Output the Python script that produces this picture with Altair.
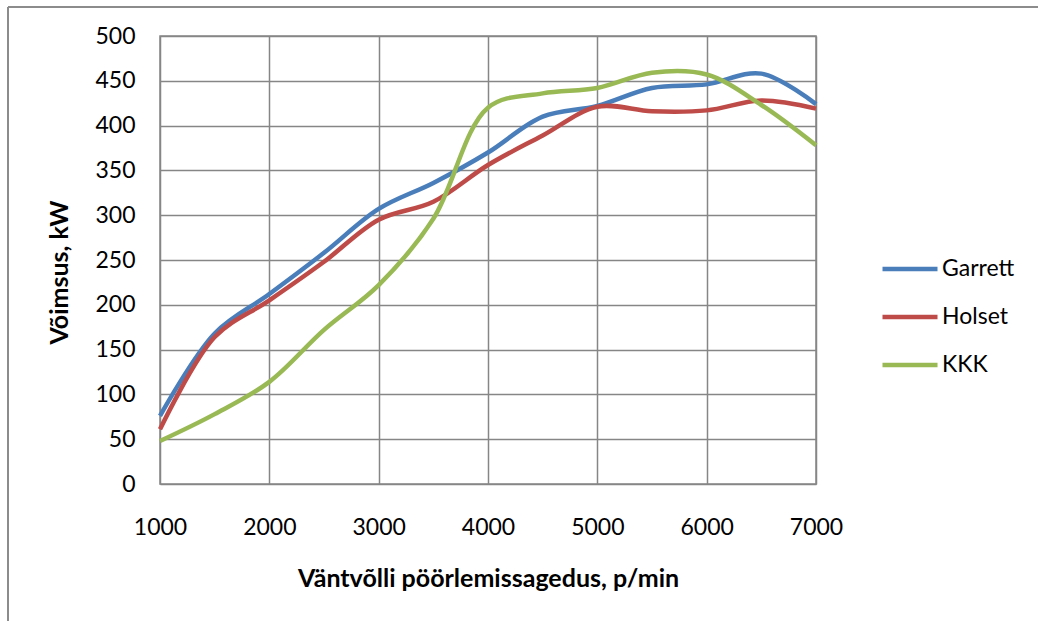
import altair as alt
import pandas as pd

rpm = [1000, 1500, 2000, 2500, 3000, 3500, 4000, 4500, 5000, 5500, 6000, 6500, 7000]
garrett = [76, 168, 212, 258, 307, 336, 370, 410, 422, 442, 446, 458, 424]
holset = [61, 164, 205, 248, 295, 315, 356, 389, 421, 416, 417, 428, 419]
kkk = [48, 78, 114, 172, 222, 296, 420, 436, 442, 459, 457, 423, 378]
series = ["Garrett", "Holset", "KKK"]
colors = ["#4A7EBB", "#BE4B48", "#98B954"]

rows = []
for name, vals in zip(series, [garrett, holset, kkk]):
    for r, v in zip(rpm, vals):
        rows.append({"rpm": r, "kW": v, "series": name})
df = pd.DataFrame(rows)

FONT = "Lato"
LBL = 23
TTL = 25

lines = alt.Chart(df).mark_line(strokeWidth=4.5, interpolate="catmull-rom").encode(
    x=alt.X("rpm:Q",
            scale=alt.Scale(domain=[1000, 7000], nice=False, zero=False),
            axis=alt.Axis(title="Väntvõlli pöörlemissagedus, p/min", values=list(range(1000, 7001, 1000)),
                          format="d", labelFontSize=LBL, labelFont=FONT, labelColor="#000",
                          labelPadding=32, labelFlush=False, ticks=False, domain=False,
                          gridColor="#868686", gridWidth=1.5,
                          titleFont=FONT, titleFontSize=TTL, titleFontWeight="bold", titleColor="#000",
                          titleX=328, titleY=94, titleBaseline="middle", titleAnchor="middle")),
    y=alt.Y("kW:Q",
            scale=alt.Scale(domain=[0, 500], nice=False),
            axis=alt.Axis(title="Võimsus, kW", values=list(range(0, 501, 50)),
                          labelFontSize=LBL, labelFont=FONT, labelColor="#000",
                          labelPadding=25, labelFlush=False, ticks=False, domain=False,
                          gridColor="#868686", gridWidth=1.5,
                          titleFont=FONT, titleFontSize=TTL, titleFontWeight="bold", titleColor="#000",
                          titleX=-101, titleY=236, titleAngle=-90, titleBaseline="middle",
                          titleAlign="center")),
    color=alt.Color("series:N",
                    scale=alt.Scale(domain=series, range=colors),
                    legend=alt.Legend(title=None, orient="none", legendX=720, legendY=203,
                                      symbolType="stroke", symbolSize=3025, symbolStrokeWidth=4.5,
                                      labelFontSize=LBL, labelFont=FONT, labelColor="#000",
                                      rowPadding=6, labelOffset=2)),
)

frame_df = pd.DataFrame({"k": [0]})
left_border = alt.Chart(frame_df).mark_rule(color="#8c8c8c", strokeWidth=2).encode(
    x=alt.value(-152), y=alt.value(-29), y2=alt.value(600)
)
top_border = alt.Chart(frame_df).mark_rule(color="#8c8c8c", strokeWidth=2).encode(
    x=alt.value(-152), x2=alt.value(900), y=alt.value(-29)
)

chart = alt.layer(lines, left_border, top_border).properties(
    width=656, height=448,
    autosize=alt.AutoSizeParams(type="none"),
    padding={"left": 160, "top": 36, "right": 222, "bottom": 137},
    background="white",
).configure_view(stroke="#868686", strokeWidth=1.5)

chart.save("out.html", embed_options={"renderer": "svg", "actions": False})
